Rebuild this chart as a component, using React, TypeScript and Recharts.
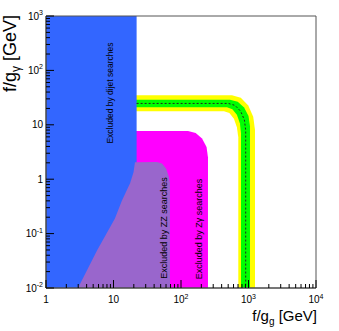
import React from "react";
import {
  ComposedChart,
  Area,
  Line,
  XAxis,
  YAxis,
  ReferenceArea,
  Customized,
} from "recharts";

const FONT = "'Liberation Sans', Arial, Helvetica, sans-serif";

// region boundaries: x = f/g_g [GeV], y = f/g_gamma [GeV]
const dijetEdge = [
  { x: 1, y: 1000 },
  { x: 22, y: 1000 },
];
const zGammaEdge = [
  { x: 20, y: 7.7 },
  { x: 127, y: 7.7 },
  { x: 165, y: 7.1 },
  { x: 205, y: 5.6 },
  { x: 239, y: 3.9 },
  { x: 251, y: 2.5 },
];
const zzEdge = [
  { x: 2.98, y: 0.01 },
  { x: 5.7, y: 0.049 },
  { x: 10.5, y: 0.19 },
  { x: 13.4, y: 0.41 },
  { x: 17.6, y: 0.84 },
  { x: 19.8, y: 1.34 },
  { x: 20.8, y: 2.05 },
  { x: 44, y: 2.07 },
  { x: 52.3, y: 1.94 },
  { x: 60.4, y: 1.55 },
  { x: 66.4, y: 1.09 },
  { x: 68.7, y: 0.84 },
];
const yellowOuter = [
  { x: 20, y: 35 },
  { x: 570, y: 35 },
  { x: 769, y: 31.3 },
  { x: 993, y: 22.6 },
  { x: 1175, y: 14 },
  { x: 1248, y: 8 },
];
const greenOuter = [
  { x: 20, y: 29 },
  { x: 532, y: 29 },
  { x: 692, y: 26.6 },
  { x: 861, y: 20.8 },
  { x: 1000, y: 14.5 },
  { x: 1052, y: 9.4 },
];
const greenInner = [
  { x: 20, y: 21 },
  { x: 480, y: 21 },
  { x: 577, y: 19.4 },
  { x: 673, y: 15.3 },
  { x: 746, y: 10.7 },
  { x: 774, y: 7 },
];
const yellowInner = [
  { x: 20, y: 17.8 },
  { x: 434, y: 17.8 },
  { x: 521, y: 16.4 },
  { x: 608, y: 12.9 },
  { x: 673, y: 9 },
  { x: 706, y: 5.9 },
];
const expectedLimit = [
  { x: 22, y: 24.7 },
  { x: 505, y: 24.7 },
  { x: 633, y: 22.7 },
  { x: 766, y: 17.7 },
  { x: 869, y: 12.3 },
  { x: 909, y: 8 },
  { x: 909, y: 0.01 },
];

const xMajorTicks = [1, 10, 100, 1000, 10000];
const xTickLabels = ["1", "10", "10^2", "10^3", "10^4"];
const yMajorTicks = [0.01, 0.1, 1, 10, 100, 1000];
const yTickLabels = ["10^-2", "10^-1", "1", "10", "10^2", "10^3"];
const minorSteps = [2, 3, 4, 5, 6, 7, 8, 9];

const withMinors = (majors: number[]) =>
  majors.flatMap((d, i) =>
    i < majors.length - 1 ? [d, ...minorSteps.map((m) => d * m)] : [d]
  );

const xTicks = withMinors(xMajorTicks);
const yTicks = withMinors(yMajorTicks);

const TickLabel = ({ x, y, label, anchor }: any) => {
  const [base, exp] = label.split("^");
  return (
    <text x={x} y={y} textAnchor={anchor} fontFamily={FONT} fontSize={10} fill="#000">
      {base}
      {exp && (
        <tspan dy={-4.5} fontSize={7}>
          {exp}
        </tspan>
      )}
    </text>
  );
};

const XTick = (props: any) => {
  const { x, y, payload } = props;
  const i = xMajorTicks.indexOf(payload.value);
  const len = i >= 0 ? 8 : 4;
  return (
    <g>
      <line x1={x} y1={y} x2={x} y2={y - len} stroke="#000" />
      {i >= 0 && <TickLabel x={x} y={y + 15} label={xTickLabels[i]} anchor="middle" />}
    </g>
  );
};

const YTick = (props: any) => {
  const { x, y, payload } = props;
  const i = yMajorTicks.indexOf(payload.value);
  const len = i >= 0 ? 8 : 4;
  return (
    <g>
      <line x1={x} y1={y} x2={x + len} y2={y} stroke="#000" />
      {i >= 0 && <TickLabel x={x - 3} y={y + 3.5} label={yTickLabels[i]} anchor="end" />}
    </g>
  );
};

const AxisTitles = () => (
  <g fontFamily={FONT} fill="#000">
    <text x={317} y={321} textAnchor="end" fontSize={15}>
      f/g<tspan dy={4} fontSize={10}>g</tspan>
      <tspan dy={-4}> [GeV]</tspan>
    </text>
    <text x={16} y={15} textAnchor="end" fontSize={18} transform="rotate(-90 16 15)">
      f/g<tspan dy={4} fontSize={12}>γ</tspan>
      <tspan dy={-4}> [GeV]</tspan>
    </text>
  </g>
);

// region captions sit above the filled areas
const Captions = () => (
  <svg
    width={339}
    height={331}
    style={{ position: "absolute", left: 0, top: 0, pointerEvents: "none" }}
  >
    <g fontFamily={FONT} fill="#000">
      <text x={110} y={93} dy="0.35em" textAnchor="middle" fontSize={8.5} transform="rotate(-90 110 93)">
        Excluded by dijet searches
      </text>
      <text x={164} y={228} dy="0.35em" textAnchor="middle" fontSize={9} transform="rotate(-90 164 228)">
        Excluded by ZZ searches
      </text>
      <text x={199} y={229} dy="0.35em" textAnchor="middle" fontSize={9} transform="rotate(-90 199 229)">
        Excluded by Zγ searches
      </text>
    </g>
  </svg>
);

const fillArea = (data: any[], color: string) => (
  <Area
    data={data}
    dataKey="y"
    type="linear"
    baseValue={0.01}
    stroke="none"
    fill={color}
    fillOpacity={1}
    dot={false}
    activeDot={false}
    isAnimationActive={false}
  />
);

export default function App() {
  return (
    <div style={{ position: "absolute", left: 0, top: 0, width: 339, height: 331, background: "#fff" }}>
      <ComposedChart
        width={339}
        height={331}
        margin={{ top: 16, right: 23, left: 0, bottom: 0 }}
      >
        {fillArea(yellowOuter, "#ffff00")}
        {fillArea(greenOuter, "#00ff00")}
        {fillArea(greenInner, "#ffff00")}
        {fillArea(yellowInner, "#ffffff")}
        {fillArea(zGammaEdge, "#ff00ff")}
        {fillArea(dijetEdge, "#3366ff")}
        {fillArea(zzEdge, "#9966cc")}
        <Line
          data={expectedLimit}
          dataKey="y"
          type="linear"
          stroke="#222"
          strokeWidth={1}
          strokeDasharray="2 2"
          dot={false}
          activeDot={false}
          isAnimationActive={false}
        />
        <XAxis
          dataKey="x"
          type="number"
          scale="log"
          domain={[1, 10000]}
          allowDataOverflow
          ticks={xTicks}
          interval={0}
          height={43}
          tickSize={0}
          tickMargin={0}
          tickLine={false}
          tick={<XTick />}
          axisLine={{ stroke: "#444" }}
        />
        <YAxis
          dataKey="y"
          type="number"
          scale="log"
          domain={[0.01, 1000]}
          allowDataOverflow
          ticks={yTicks}
          interval={0}
          width={46}
          tickSize={0}
          tickMargin={0}
          tickLine={false}
          tick={<YTick />}
          axisLine={{ stroke: "#444" }}
        />
        <ReferenceArea
          x1={1}
          x2={10000}
          y1={0.01}
          y2={1000}
          fill="none"
          stroke="#555"
          ifOverflow="visible"
        />
        <Customized component={AxisTitles} />
      </ComposedChart>
      <Captions />
    </div>
  );
}
